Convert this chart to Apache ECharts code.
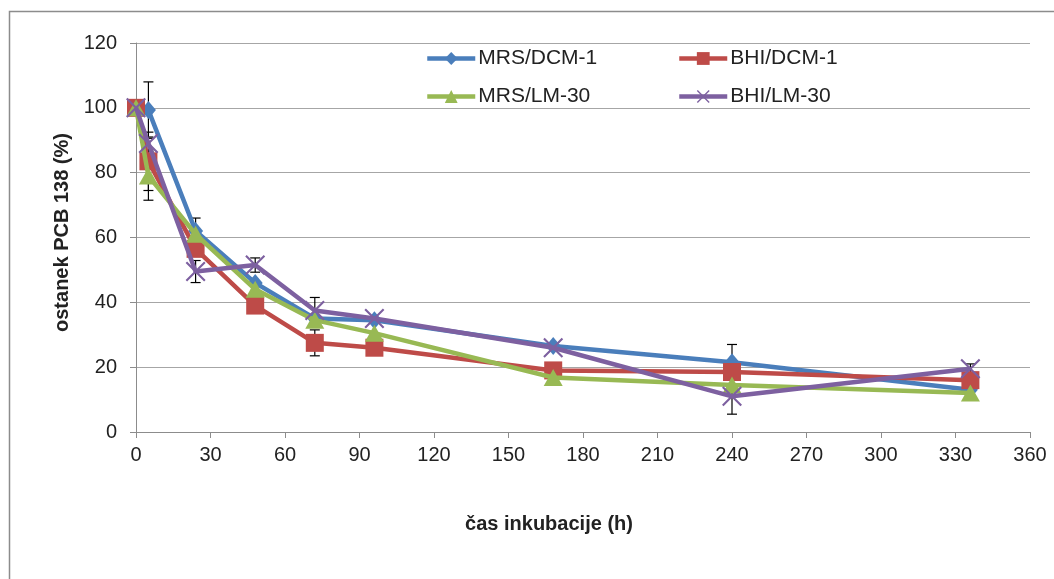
<!DOCTYPE html>
<html>
<head>
<meta charset="utf-8">
<script src="https://cdn.jsdelivr.net/npm/echarts@6/dist/echarts.min.js"></script>
<style>
  html, body { margin: 0; padding: 0; background: #ffffff; }
  #chart { width: 1054px; height: 579px; }
</style>
</head>
<body>
<div id="chart"></div>
<script>
// Incubation times (h)
const hours = [0, 5, 24, 48, 72, 96, 168, 240, 336];

// Remaining PCB 138 (%) for each medium / strain
const mrsDcm1 = [100, 99.3, 62, 46, 35, 34.5, 26.5, 21.5, 13];
const bhiDcm1 = [100, 83.5, 56.5, 39, 27.5, 26, 19, 18.5, 16];
const mrsLm30 = [100, 79, 61, 44, 34.5, 30.5, 16.8, 14.5, 12];
const bhiLm30 = [100, 89, 49.5, 51.5, 37.5, 35, 26, 11, 19.5];

// Standard deviations (null = no visible bar)
const mrsDcm1Err = [null, 8.7, 4, null, null, null, null, 5.5, null];
const bhiDcm1Err = [null, 9, null, null, 4, null, null, null, null];
const mrsLm30Err = [null, 7.5, null, null, null, null, null, null, null];
const bhiLm30Err = [null, 2, 3.4, 2.2, 4, null, null, 5.5, 1.5];

const seriesNames = ['MRS/DCM-1', 'BHI/DCM-1', 'MRS/LM-30', 'BHI/LM-30'];

const xTicks = { min: 0, max: 360, interval: 30 };
const yTicks = { min: 0, max: 120, interval: 20 };

const FONT = 'Liberation Sans, Arial, sans-serif';
const colors = ['#4a7ebb', '#be4b48', '#98b954', '#7d60a0'];
const crossPath = 'path://M0,1.5 L1.5,0 L10,8.5 L18.5,0 L20,1.5 L11.5,10 L20,18.5 L18.5,20 L10,11.5 L1.5,20 L0,18.5 L8.5,10 Z';
const symbols = ['diamond', 'rect', 'triangle', crossPath];
const symbolSizes = [[15, 18], 18, [19, 17], 20];
const values = [mrsDcm1, bhiDcm1, mrsLm30, bhiLm30];
const errors = [mrsDcm1Err, bhiDcm1Err, mrsLm30Err, bhiLm30Err];

const pairs = arr => hours.map((h, i) => [h, arr[i]]);

// Error bar series: vertical whisker with small caps
function errorSeries(vals, errs, idx) {
  const data = [];
  hours.forEach((h, i) => {
    if (errs[i] != null) data.push([h, vals[i] - errs[i], vals[i] + errs[i]]);
  });
  return {
    type: 'custom',
    name: seriesNames[idx] + ' err',
    z: 1,
    silent: true,
    renderItem: function (params, api) {
      const x = api.value(0);
      const lo = api.coord([x, api.value(1)]);
      const hi = api.coord([x, api.value(2)]);
      const hw = 5;
      const style = { stroke: '#000', lineWidth: 1.2 };
      return {
        type: 'group',
        children: [
          { type: 'line', shape: { x1: hi[0], y1: hi[1], x2: lo[0], y2: lo[1] }, style },
          { type: 'line', shape: { x1: hi[0] - hw, y1: hi[1], x2: hi[0] + hw, y2: hi[1] }, style },
          { type: 'line', shape: { x1: lo[0] - hw, y1: lo[1], x2: lo[0] + hw, y2: lo[1] }, style }
        ]
      };
    },
    data: data
  };
}

const lineSeries = values.map((v, i) => ({
  type: 'line',
  name: seriesNames[i],
  data: pairs(v),
  z: 2 + i,
  symbol: symbols[i],
  symbolSize: symbolSizes[i],
  showAllSymbol: true,
  lineStyle: { color: colors[i], width: 4.5 },
  itemStyle: { color: colors[i] },
  emphasis: { disabled: true },
  animation: false
}));

const legendPos = [
  { left: 425, top: 48 },
  { left: 677, top: 48 },
  { left: 425, top: 86 },
  { left: 677, top: 86 }
];

const chart = echarts.init(document.getElementById('chart'), null, { renderer: 'canvas' });
chart.setOption({
  backgroundColor: '#ffffff',
  animation: false,
  graphic: [{
    type: 'rect',
    left: 7, top: 9,
    shape: { width: 1100, height: 620 },
    style: { fill: 'none', stroke: '#8c8c8c', lineWidth: 1.5 },
    silent: true
  }],
  grid: { left: 136, right: 24, top: 43, bottom: 147 },
  legend: seriesNames.map((n, i) => ({
    data: [n],
    left: legendPos[i].left,
    top: legendPos[i].top,
    padding: 0,
    itemWidth: 48,
    itemHeight: 16,
    itemGap: 0,
    lineStyle: { width: 4.5 },
    textStyle: { fontFamily: FONT, fontSize: 21, color: '#222', padding: [0, 0, 0, -2] },
    selectedMode: false
  })),
  xAxis: {
    type: 'value',
    min: xTicks.min, max: xTicks.max, interval: xTicks.interval,
    name: 'čas inkubacije (h)',
    nameLocation: 'middle',
    nameGap: 82,
    nameTextStyle: { fontFamily: FONT, fontSize: 20, fontWeight: 'bold', color: '#222', padding: [0, 68, 0, 0] },
    axisLine: { lineStyle: { color: '#8c8c8c', width: 1 } },
    axisTick: { show: true, length: 6, lineStyle: { color: '#8c8c8c' } },
    axisLabel: { fontFamily: FONT, fontSize: 20, color: '#222', margin: 13 },
    splitLine: { show: false }
  },
  yAxis: {
    type: 'value',
    min: yTicks.min, max: yTicks.max, interval: yTicks.interval,
    name: 'ostanek PCB 138 (%)',
    nameLocation: 'middle',
    nameGap: 64,
    nameTextStyle: { fontFamily: FONT, fontSize: 20, fontWeight: 'bold', color: '#222', padding: [0, 0, 0, 10] },
    axisLine: { show: true, lineStyle: { color: '#8c8c8c', width: 1 } },
    axisTick: { show: true, length: 6, lineStyle: { color: '#8c8c8c' } },
    axisLabel: { fontFamily: FONT, fontSize: 20, color: '#222', margin: 19 },
    splitLine: { show: true, lineStyle: { color: '#a6a6a6', width: 1 } }
  },
  series: [
    ...values.map((v, i) => errorSeries(v, errors[i], i)),
    ...lineSeries
  ]
});
</script>
</body>
</html>
